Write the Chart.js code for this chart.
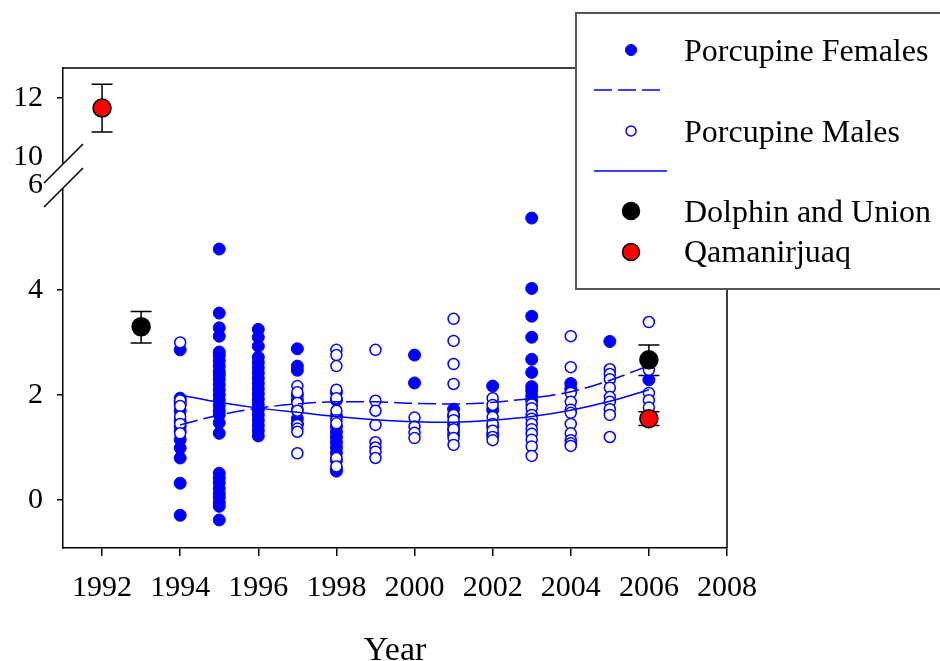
<!DOCTYPE html>
<html>
<head>
<meta charset="utf-8">
<script src="https://cdn.jsdelivr.net/npm/chart.js@4.4.1/dist/chart.umd.min.js"></script>
<style>
  html, body { margin: 0; padding: 0; background: #fff; }
</style>
</head>
<body>
<canvas id="chart" width="940" height="661"></canvas>
<script>
// sampling years for the Porcupine herd
const sampleYears = [1994, 1995, 1996, 1997, 1998, 1999, 2000, 2001, 2002, 2003, 2004, 2005, 2006];

// one list of values per sample year
const femaleValues = [
  [2.86, 1.94, 1.88, 1.82, 1.7, 1.5, 1.4, 1.3, 1.15, 0.99, 0.8, 0.32, -0.29],
  [4.78, 3.56, 3.28, 3.12, 2.82, 2.75, 2.65, 2.55, 2.45, 2.38, 2.3, 2.2, 2.1, 2.0, 1.9, 1.8, 1.7, 1.62, 1.47, 1.27,
   0.51, 0.42, 0.33, 0.22, 0.12, 0.05, -0.05, -0.12, -0.38],
  [3.25, 3.1, 2.93, 2.72, 2.62, 2.52, 2.42, 2.32, 2.22, 2.12, 2.02, 1.92, 1.82, 1.72, 1.62, 1.52, 1.42, 1.32, 1.22],
  [2.88, 2.55, 2.47, 2.0, 1.9, 1.72, 1.55, 1.45],
  [2.05, 1.9, 1.6, 1.4, 1.3, 1.2, 1.1, 1.0, 0.9, 0.75, 0.6, 0.55],
  [],
  [2.76, 2.23],
  [1.73, 1.6, 1.45, 1.35, 1.25],
  [2.17, 1.72, 1.4, 1.25],
  [5.37, 4.03, 3.5, 3.1, 2.68, 2.43, 2.16, 2.08, 1.98, 1.9],
  [2.22, 2.12],
  [3.02],
  [2.29]
];

const maleValues = [
  [3.0, 1.9, 1.79, 1.59, 1.45, 1.27],
  [],
  [],
  [2.17, 2.05, 1.85, 1.7, 1.43, 1.36, 1.3, 0.89],
  [2.86, 2.76, 2.55, 2.1, 1.94, 1.7, 1.52, 1.46, 0.8, 0.64],
  [2.86, 1.89, 1.7, 1.43, 1.1, 1.0, 0.92, 0.8],
  [1.57, 1.4, 1.28, 1.18],
  [3.45, 3.03, 2.59, 2.21, 1.62, 1.52, 1.35, 1.18, 1.05],
  [1.94, 1.81, 1.58, 1.45, 1.32, 1.2, 1.14],
  [1.82, 1.75, 1.62, 1.55, 1.45, 1.35, 1.26, 1.15, 1.02, 0.84],
  [3.12, 2.53, 2.04, 1.87, 1.72, 1.66, 1.45, 1.27, 1.14, 1.08, 1.03],
  [2.49, 2.4, 2.3, 2.14, 1.96, 1.87, 1.73, 1.62, 1.2],
  [3.39, 2.48, 2.04, 1.9, 1.76]
];

// fitted curves, read at each sample year
const femaleFit = [1.43, 1.62, 1.75, 1.83, 1.87, 1.87, 1.84, 1.83, 1.86, 1.94, 2.06, 2.28, 2.56];
const maleFit = [2.0, 1.86, 1.75, 1.67, 1.59, 1.53, 1.49, 1.48, 1.52, 1.59, 1.71, 1.88, 2.1];

// other herds: mean with error bar
const dolphinYears = [1993, 2006];
const dolphinMeans = [3.3, 2.67];
const dolphinLow = [2.99, 2.37];
const dolphinHigh = [3.59, 2.95];

const qamYears = [1992, 2006];
const qamMeans = [11.66, 1.55];
const qamLow = [10.85, 1.42];
const qamHigh = [12.47, 1.68];

const xTicks = [1992, 1994, 1996, 1998, 2000, 2002, 2004, 2006, 2008];
const yLowTicks = [0, 2, 4, 6];
const yHighTicks = [10, 12];
const BREAK = 10; // values from here go on the upper axis segment

const SERIF = "'Liberation Serif', 'Times New Roman', serif";
const BLUE = '#0000ff';

function cloud(values){
  return sampleYears.flatMap((yr, i) => values[i].map(v => ({ x: yr, y: v })));
}
function curve(values){
  return sampleYears.map((yr, i) => ({ x: yr, y: values[i] }));
}
function herd(years, means, low, high, upper){
  const idx = years.map((_, i) => i).filter(i => (means[i] >= BREAK) === upper);
  return {
    data: idx.map(i => ({ x: years[i], y: means[i] })),
    errLow: idx.map(i => low[i]),
    errHigh: idx.map(i => high[i])
  };
}

const dolphin = herd(dolphinYears, dolphinMeans, dolphinLow, dolphinHigh, false);
const qamLower = herd(qamYears, qamMeans, qamLow, qamHigh, false);
const qamUpper = herd(qamYears, qamMeans, qamLow, qamHigh, true);

const datasets = [
  { label: 'Porcupine Females', data: cloud(femaleValues), order: 4, yAxisID: 'y',
    pointRadius: 6, backgroundColor: BLUE, borderColor: BLUE, borderWidth: 1 },
  { label: 'Porcupine Males', data: cloud(maleValues), order: 3, yAxisID: 'y',
    pointRadius: 5.5, backgroundColor: '#fff', borderColor: BLUE, borderWidth: 1.5 },
  { type: 'line', label: 'Females fit', data: curve(femaleFit), order: 2, yAxisID: 'y',
    borderColor: BLUE, borderWidth: 1.5, borderDash: [18, 6], pointRadius: 0,
    cubicInterpolationMode: 'monotone', fill: false },
  { type: 'line', label: 'Males fit', data: curve(maleFit), order: 2, yAxisID: 'y',
    borderColor: BLUE, borderWidth: 1.5, pointRadius: 0,
    cubicInterpolationMode: 'monotone', fill: false },
  { label: 'Dolphin and Union', data: dolphin.data, errLow: dolphin.errLow, errHigh: dolphin.errHigh,
    order: 1, yAxisID: 'y', pointRadius: 9, backgroundColor: '#000', borderColor: '#000', borderWidth: 1.5 },
  { label: 'Qamanirjuaq', data: qamLower.data, errLow: qamLower.errLow, errHigh: qamLower.errHigh,
    order: 0, yAxisID: 'y', pointRadius: 9, backgroundColor: '#ff0000', borderColor: '#000', borderWidth: 1.5 },
  { label: 'Qamanirjuaq', data: qamUpper.data, errLow: qamUpper.errLow, errHigh: qamUpper.errHigh,
    order: 0, yAxisID: 'yTop', pointRadius: 9, backgroundColor: '#ff0000', borderColor: '#000', borderWidth: 1.5 }
];

// error bars go under the markers
const errorBars = {
  id: 'errorBars',
  beforeDatasetsDraw(chart){
    const ctx = chart.ctx;
    chart.data.datasets.forEach((ds, di) => {
      if (!ds.errLow) return;
      const meta = chart.getDatasetMeta(di);
      const xs = meta.xScale, ys = meta.yScale;
      ds.data.forEach((p, i) => {
        const x = xs.getPixelForValue(p.x);
        const y1 = ys.getPixelForValue(ds.errLow[i]);
        const y2 = ys.getPixelForValue(ds.errHigh[i]);
        ctx.save();
        ctx.strokeStyle = '#000';
        ctx.lineWidth = 1.5;
        ctx.beginPath();
        ctx.moveTo(x, y1); ctx.lineTo(x, y2);
        ctx.moveTo(x - 10.5, y1); ctx.lineTo(x + 10.5, y1);
        ctx.moveTo(x - 10.5, y2); ctx.lineTo(x + 10.5, y2);
        ctx.stroke();
        ctx.restore();
      });
    });
  }
};

// top/right frame, axis break marks and the boxed legend
const decorations = {
  id: 'decorations',
  afterDraw(chart){
    const ctx = chart.ctx;
    const a = chart.chartArea;
    ctx.save();
    ctx.strokeStyle = '#000';
    ctx.lineWidth = 1.5;
    ctx.beginPath();
    ctx.moveTo(a.left, a.top); ctx.lineTo(a.right, a.top); ctx.lineTo(a.right, a.bottom);
    ctx.stroke();

    // axis break between the two stacked y segments
    const b = chart.scales.y.top;
    const L = a.left;
    const c1 = b - 12, c2 = b + 12;
    ctx.fillStyle = '#fff';
    ctx.beginPath();
    ctx.moveTo(L - 19, c1 + 19); ctx.lineTo(L + 20, c1 - 20);
    ctx.lineTo(L + 20, c2 - 20); ctx.lineTo(L - 19, c2 + 19);
    ctx.closePath();
    ctx.fill();
    ctx.beginPath();
    ctx.moveTo(L - 19, c1 + 19); ctx.lineTo(L + 20, c1 - 20);
    ctx.moveTo(L - 19, c2 + 19); ctx.lineTo(L + 20, c2 - 20);
    ctx.stroke();

    // legend
    ctx.fillStyle = '#fff';
    ctx.fillRect(576, 13, 370, 276);
    ctx.strokeStyle = '#555';
    ctx.lineWidth = 2;
    ctx.strokeRect(576, 13, 370, 276);

    const ds = chart.data.datasets;
    const mark = (d, y, r) => {
      ctx.beginPath();
      ctx.arc(631, y, r, 0, Math.PI * 2);
      ctx.fillStyle = d.backgroundColor;
      ctx.fill();
      ctx.lineWidth = d.borderWidth;
      ctx.strokeStyle = d.borderColor;
      ctx.stroke();
    };
    const seg = (d, y, x2) => {
      ctx.beginPath();
      ctx.setLineDash(d.borderDash || []);
      ctx.strokeStyle = d.borderColor;
      ctx.lineWidth = d.borderWidth;
      ctx.moveTo(594, y); ctx.lineTo(x2, y);
      ctx.stroke();
      ctx.setLineDash([]);
    };
    mark(ds[0], 50, 5.5);
    seg(ds[2], 90, 662);
    mark(ds[1], 131, 5);
    seg(ds[3], 171, 667);
    mark(ds[4], 211, 8.5);
    mark(ds[5], 252, 8.5);

    ctx.fillStyle = '#000';
    ctx.font = '32px ' + SERIF;
    ctx.textAlign = 'left';
    ctx.textBaseline = 'alphabetic';
    ctx.fillText(ds[0].label, 684, 61);
    ctx.fillText(ds[1].label, 684, 142);
    ctx.fillText(ds[4].label, 684, 222);
    ctx.fillText(ds[5].label, 684, 262);
    ctx.restore();
  }
};

const tickFont = { family: SERIF, size: 30 };
const hideTick = vals => c => (c.tick && vals.includes(c.tick.value)) ? 'rgba(0,0,0,0)' : '#000';

new Chart(document.getElementById('chart'), {
  type: 'scatter',
  data: { datasets },
  plugins: [errorBars, decorations],
  options: {
    responsive: false,
    animation: false,
    layout: { padding: { top: 68, right: 213, left: 0, bottom: 0 } },
    plugins: { legend: { display: false }, tooltip: { enabled: false } },
    scales: {
      x: {
        type: 'linear', min: 1991, max: 2008,
        afterBuildTicks: s => { s.ticks = xTicks.map(v => ({ value: v })); },
        afterFit: s => { s.height = 113; },
        ticks: { font: tickFont, color: '#000', padding: 14, autoSkip: false, maxRotation: 0,
                 callback: v => String(v) },
        grid: { drawOnChartArea: false, tickLength: 8, color: '#000', lineWidth: 1.5 },
        border: { display: true, color: '#000', width: 1.5 },
        title: { display: true, text: 'Year', color: '#000',
                 font: { family: SERIF, size: 34, lineHeight: 0.6 },
                 padding: { top: 20, bottom: 0 } }
      },
      y: {
        type: 'linear', position: 'left', stack: 'left', stackWeight: 372,
        min: -0.914, max: 6.171,
        afterBuildTicks: s => { s.ticks = yLowTicks.map(v => ({ value: v })); },
        afterFit: s => { s.width = 63; },
        ticks: { font: tickFont, color: '#000', padding: 14, autoSkip: false, callback: v => String(v) },
        grid: { drawOnChartArea: false, tickLength: 6, color: '#000', tickColor: hideTick([6]), lineWidth: 1.5 },
        border: { display: true, color: '#000', width: 1.5 }
      },
      yTop: {
        type: 'linear', position: 'left', stack: 'left', stackWeight: 108,
        min: 9.356, max: 13.017,
        afterBuildTicks: s => { s.ticks = yHighTicks.map(v => ({ value: v })); },
        afterFit: s => { s.width = 63; },
        ticks: { font: tickFont, color: '#000', padding: 14, autoSkip: false, callback: v => String(v) },
        grid: { drawOnChartArea: false, tickLength: 6, color: '#000', tickColor: hideTick([10]), lineWidth: 1.5 },
        border: { display: true, color: '#000', width: 1.5 }
      }
    }
  }
});
</script>
</body>
</html>
